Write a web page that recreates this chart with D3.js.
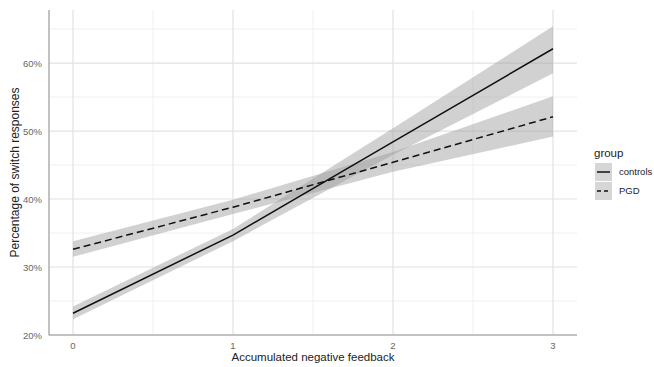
<!DOCTYPE html>
<html>
<head>
<meta charset="utf-8">
<script src="https://cdn.jsdelivr.net/npm/d3@7"></script>
<style>
body{margin:0;background:#fff;}
text{font-family:"Liberation Sans",Arial,sans-serif;}
</style>
</head>
<body>
<svg id="chart" width="654" height="367"></svg>
<script>
const feedback = [0, 1, 2, 3];
const groups = ["controls", "PGD"];
const controlsFit = [23.2, 34.7, 48.4, 62.1];
const controlsLow = [22.3, 33.8, 46.5, 58.5];
const controlsHigh = [24.2, 35.6, 50.4, 65.4];
const pgdFit = [32.6, 38.8, 45.4, 52.1];
const pgdLow = [31.5, 37.8, 44.0, 49.2];
const pgdHigh = [33.8, 39.9, 46.9, 55.1];
const yTicks = [20, 30, 40, 50, 60];
const yMinor = [25, 35, 45, 55, 65];
const xTicks = [0, 1, 2, 3];
const xMinor = [0.5, 1.5, 2.5];

const svg = d3.select("#chart");
const L = 49, R = 577, T = 10, B = 335;
const x = d3.scaleLinear().domain([-0.15, 3.15]).range([L, R]);
const y = d3.scaleLinear().domain([20, 67.8]).range([B, T]);

const grid = svg.append("g");
yMinor.forEach(v => grid.append("line").attr("x1", L).attr("x2", R).attr("y1", y(v)).attr("y2", y(v)).attr("stroke", "#ececec").attr("stroke-width", 0.8));
xMinor.forEach(v => grid.append("line").attr("x1", x(v)).attr("x2", x(v)).attr("y1", T).attr("y2", B).attr("stroke", "#ececec").attr("stroke-width", 0.8));
yTicks.forEach(v => grid.append("line").attr("x1", L).attr("x2", R).attr("y1", y(v)).attr("y2", y(v)).attr("stroke", "#e2e2e2").attr("stroke-width", 1.2));
xTicks.forEach(v => grid.append("line").attr("x1", x(v)).attr("x2", x(v)).attr("y1", T).attr("y2", B).attr("stroke", "#e2e2e2").attr("stroke-width", 1.2));

const series = [
  {name: "controls", fit: controlsFit, lo: controlsLow, hi: controlsHigh, dash: null},
  {name: "PGD", fit: pgdFit, lo: pgdLow, hi: pgdHigh, dash: "7,4"}
];

const area = d3.area().x(d => x(d.x)).y0(d => y(d.lo)).y1(d => y(d.hi));
const line = d3.line().x(d => x(d.x)).y(d => y(d.v));

series.forEach(s => {
  const pts = feedback.map((f, i) => ({x: f, lo: s.lo[i], hi: s.hi[i]}));
  svg.append("path").attr("d", area(pts)).attr("fill", "#999").attr("fill-opacity", 0.45);
});
series.forEach(s => {
  const pts = feedback.map((f, i) => ({x: f, v: s.fit[i]}));
  svg.append("path").attr("d", line(pts)).attr("fill", "none").attr("stroke", "#111")
    .attr("stroke-width", 1.5).attr("stroke-dasharray", s.dash);
});

// axis lines
svg.append("line").attr("x1", L).attr("x2", L).attr("y1", T).attr("y2", B + 0.5).attr("stroke", "#b3b3b3").attr("stroke-width", 1.6);
svg.append("line").attr("x1", L).attr("x2", R).attr("y1", B).attr("y2", B).attr("stroke", "#b3b3b3").attr("stroke-width", 1.6);

// tick labels
yTicks.forEach(v => svg.append("text").attr("x", 42).attr("y", y(v) + 3.5).attr("text-anchor", "end")
  .attr("font-size", 9.5).attr("fill", "#666").text(v + "%"));
xTicks.forEach(v => svg.append("text").attr("x", x(v)).attr("y", 349).attr("text-anchor", "middle")
  .attr("font-size", 9.5).attr("fill", "#666").text(v));

// axis titles
svg.append("text").attr("x", (L + R) / 2).attr("y", 361).attr("text-anchor", "middle")
  .attr("font-size", 11.5).attr("fill", "#222").text("Accumulated negative feedback");
svg.append("text").attr("transform", `translate(19,${(T + B) / 2}) rotate(-90)`).attr("text-anchor", "middle")
  .attr("font-size", 12).attr("fill", "#222").text("Percentage of switch responses");

// legend
const lg = svg.append("g");
lg.append("text").attr("x", 594).attr("y", 157).attr("font-size", 11.5).attr("fill", "#222").text("group");
groups.forEach((g, i) => {
  const s = series[i];
  const y0 = 163 + i * 19;
  lg.append("rect").attr("x", 595).attr("y", y0).attr("width", 17).attr("height", 18).attr("fill", "#d6d6d6");
  lg.append("line").attr("x1", 597).attr("x2", 610).attr("y1", y0 + 9).attr("y2", y0 + 9)
    .attr("stroke", "#111").attr("stroke-width", 1.5).attr("stroke-dasharray", s.dash ? "4,3" : null);
  lg.append("text").attr("x", 619).attr("y", y0 + 12).attr("font-size", 9.5).attr("fill", "#222").text(g);
});
</script>
</body>
</html>
